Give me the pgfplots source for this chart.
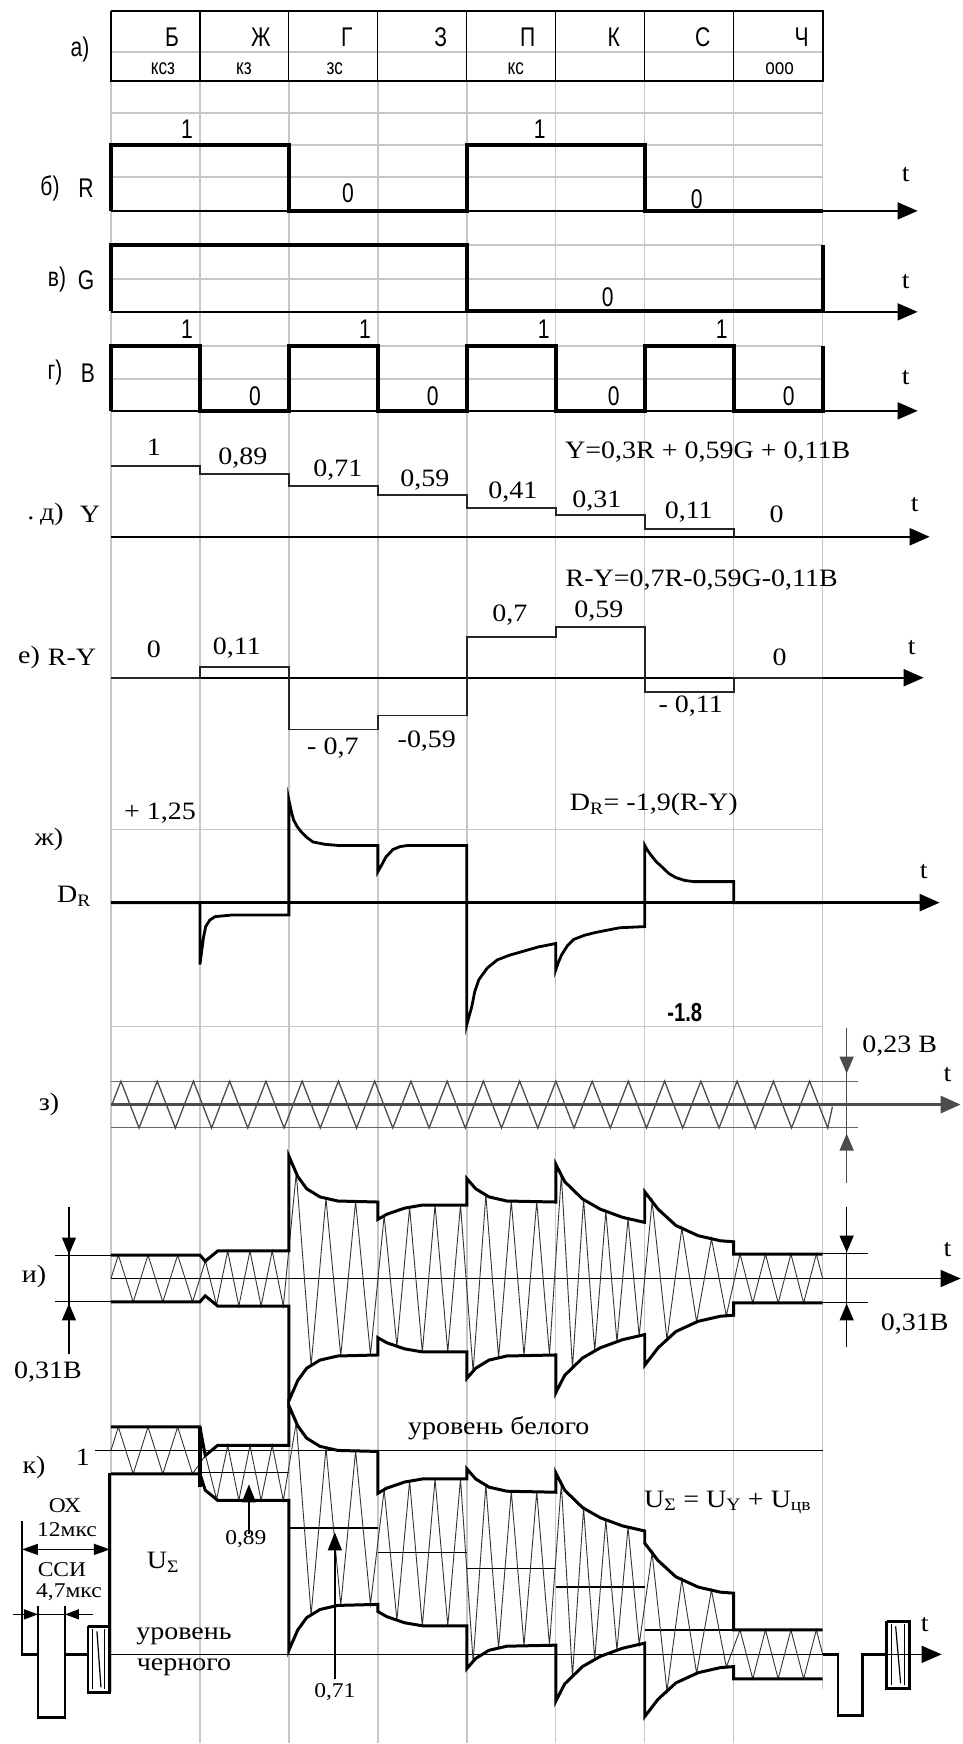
\documentclass[border=0pt]{standalone}
\usepackage{fontspec}
\setmainfont{Liberation Serif}[FakeStretch=1.12]
\newfontfamily\ar{Liberation Sans}[FakeStretch=0.78]
\usepackage{pgfplots}
\usepackage{pgfplotstable}
\pgfplotsset{compat=1.18}
\usetikzlibrary{arrows.meta}

\definecolor{gridc}{gray}{0.78}
\definecolor{zc}{gray}{0.30}

% R, G, B signals (t in colour-bar units, v = 0/1)
\pgfplotstableread{
t v
0 0
0 1
2 1
2 0
4 0
4 1
6 1
6 0
8 0
}\tabR
\pgfplotstableread{
t v
0 0
0 1
4 1
4 0
8 0
8 1
}\tabG
\pgfplotstableread{
t v
0 0
0 1
1 1
1 0
2 0
2 1
3 1
3 0
4 0
4 1
5 1
5 0
6 0
6 1
7 1
7 0
8 0
8 1
}\tabB
% luminance Y
\pgfplotstableread{
t v
0 1
1 1
1 0.89
2 0.89
2 0.71
3 0.71
3 0.59
4 0.59
4 0.41
5 0.41
5 0.31
6 0.31
6 0.11
7 0.11
7 0
}\tabY
% R-Y as drawn
\pgfplotstableread{
t v
0 0
1 0
1 0.15
2 0.15
2 -0.70
3 -0.70
3 -0.51
4 -0.51
4 0.55
5 0.55
5 0.69
6 0.69
6 -0.19
7 -0.19
7 0
8 0
}\tabRY
% D_R with pre-emphasis spikes
\pgfplotstableread{
t v
0 0
1 0
1 -1.06
1.017 -0.86
1.04 -0.60
1.065 -0.41
1.11 -0.30
1.17 -0.24
1.37 -0.21
2 -0.21
2 1.76
2.025 1.58
2.052 1.42
2.09 1.31
2.135 1.22
2.2 1.12
2.27 1.04
2.4 1.00
2.55 0.98
3 0.98
3 0.53
3.034 0.62
3.09 0.78
3.169 0.91
3.25 0.96
3.337 0.98
4 0.98
4 -2.09
4.025 -1.95
4.056 -1.78
4.09 -1.52
4.135 -1.32
4.23 -1.12
4.343 -0.98
4.48 -0.90
4.618 -0.84
4.8 -0.76
5 -0.70
5 -1.15
5.03 -1.02
5.067 -0.89
5.13 -0.74
5.202 -0.63
5.32 -0.56
5.449 -0.51
5.719 -0.43
6 -0.41
6 0.98
6.03 0.90
6.067 0.82
6.13 0.70
6.202 0.60
6.27 0.50
6.348 0.43
6.45 0.38
6.551 0.36
7 0.36
7 0
8 0
}\tabDR
% subcarrier z) (volts)
\pgfplotstableread{
t v
0.011 0
0.112 0.115
0.316 -0.115
0.520 0.115
0.724 -0.115
0.927 0.115
1.131 -0.115
1.334 0.115
1.538 -0.115
1.742 0.115
1.946 -0.115
2.149 0.115
2.353 -0.115
2.557 0.115
2.761 -0.115
2.964 0.115
3.168 -0.115
3.372 0.115
3.576 -0.115
3.779 0.115
3.983 -0.115
4.186 0.115
4.390 -0.115
4.594 0.115
4.798 -0.115
5.001 0.115
5.205 -0.115
5.409 0.115
5.613 -0.115
5.816 0.115
6.020 -0.115
6.223 0.115
6.427 -0.115
6.631 0.115
6.835 -0.115
7.038 0.115
7.242 -0.115
7.446 0.115
7.650 -0.115
7.853 0.115
8.057 -0.115
8.11 -0.01
}\tabZ
% chroma envelope a and luminance Y
\pgfplotstableread{
t a Y
0 0.115 1.0
1 0.115 1.0
1.06 0.085 0.89
1.2 0.135 0.89
2 0.135 0.89
2 0.600 0.62
2.05 0.550 0.62
2.1 0.500 0.62
2.2 0.440 0.62
2.35 0.400 0.62
2.55 0.380 0.62
3 0.375 0.62
3 0.290 0.50
3.1 0.315 0.50
3.3 0.345 0.50
3.5 0.360 0.50
4 0.360 0.50
4 0.490 0.42
4.1 0.440 0.42
4.25 0.400 0.42
4.45 0.380 0.42
5 0.375 0.42
5 0.560 0.33
5.1 0.475 0.33
5.3 0.390 0.33
5.5 0.340 0.33
5.75 0.300 0.33
6 0.275 0.33
6 0.425 0.12
6.15 0.340 0.12
6.35 0.260 0.12
6.6 0.210 0.12
6.85 0.185 0.12
7 0.180 0.12
7 0.120 0
8 0.120 0
}\tabEnv
% chroma carrier zigzag vertices
\pgfplotstableread{
t s a Y
0 0 0.115 1.0
0.083 1 0.115 1.0
0.25 -1 0.115 1.0
0.417 1 0.115 1.0
0.583 -1 0.115 1.0
0.75 1 0.115 1.0
0.917 -1 0.115 1.0
1.0625 1 0.086 0.89
1.1875 -1 0.130 0.89
1.3125 1 0.135 0.89
1.4375 -1 0.135 0.89
1.5625 1 0.135 0.89
1.6875 -1 0.135 0.89
1.8125 1 0.135 0.89
1.9375 -1 0.135 0.89
2.083 1 0.517 0.62
2.25 -1 0.427 0.62
2.417 1 0.393 0.62
2.583 -1 0.380 0.62
2.75 1 0.378 0.62
2.917 -1 0.375 0.62
3.071 1 0.308 0.50
3.214 -1 0.332 0.50
3.357 1 0.349 0.50
3.5 -1 0.360 0.50
3.643 1 0.360 0.50
3.786 -1 0.360 0.50
3.929 1 0.360 0.50
4.071 -1 0.455 0.42
4.214 1 0.410 0.42
4.357 -1 0.389 0.42
4.5 1 0.380 0.42
4.643 -1 0.378 0.42
4.786 1 0.377 0.42
4.929 -1 0.375 0.42
5.0625 1 0.507 0.33
5.1875 -1 0.438 0.33
5.3125 1 0.387 0.33
5.4375 -1 0.356 0.33
5.5625 1 0.330 0.33
5.6875 -1 0.310 0.33
5.8125 1 0.294 0.33
5.9375 -1 0.281 0.33
6.083 1 0.378 0.12
6.25 -1 0.300 0.12
6.417 1 0.247 0.12
6.583 -1 0.213 0.12
6.75 1 0.195 0.12
6.917 -1 0.183 0.12
7.071 1 0.12 0
7.214 -1 0.12 0
7.357 1 0.12 0
7.5 -1 0.12 0
7.643 1 0.12 0
7.786 -1 0.12 0
7.929 1 0.12 0
8 0 0.12 0
}\tabZig
% blanking and sync of the composite signal (luminance units)
\pgfplotstableread{
t v
-1.0 0
-0.82 0
-0.82 -0.31
-0.517 -0.31
-0.517 0
-0.258 0
}\tabSyncL
\pgfplotstableread{
t v
8 0
8.17 0
8.17 -0.30
8.45 -0.30
8.45 0
8.72 0
}\tabSyncR

\newcommand{\TX}{111+89*\thisrow{t}}

\tikzset{
  axarr/.style={-{Triangle[length=20pt,width=17pt]}},
  dimarr/.style={-{Triangle[length=17pt,width=14pt]}},
  lab/.style={font=\fontsize{25}{28}\selectfont},
  labm/.style={font=\fontsize{21}{23}\selectfont},
  labs/.style={font=\ar\fontsize{27}{29}\selectfont},
  labt/.style={font=\ar\fontsize{22}{24}\selectfont},
}

\begin{document}
\begin{tikzpicture}[every node/.append style={inner sep=0pt, outer sep=0pt}]
\begin{axis}[
  width=963pt, height=1744pt, scale only axis,
  xmin=0, xmax=963, ymin=0, ymax=1744, y dir=reverse,
  hide axis, clip=false, no markers,
]
\draw[draw=none] (axis cs:0,0) rectangle (axis cs:963,1744);
% ---------- grid ----------
\pgfplotsinvokeforeach{200,289,378,467,556,645,734}{
  \addplot[gridc, line width=1.4pt] coordinates {(#1,81) (#1,1744)};
}
\addplot[gridc, line width=1.4pt] coordinates {(111,81) (111,1693)};
\addplot[gridc, line width=1.4pt] coordinates {(823,81) (823,1690)};
\pgfplotsinvokeforeach{52,113,145,177,245,279,346,379,830,1027}{
  \addplot[gridc, line width=1.4pt] coordinates {(111,#1) (823,#1)};
}
% ---------- a) table ----------
\addplot[black, line width=1.8pt] coordinates {(111,11) (823,11) (823,81) (111,81) (111,11)};
\pgfplotsinvokeforeach{200,289,378,467,556,645,734}{
  \addplot[black, line width=1.2pt] coordinates {(#1,11) (#1,81)};
}
\node[labs] at (axis cs:80,50) {а)};
\node[labs] at (axis cs:172,37) {Б};
\node[labs] at (axis cs:261,37) {Ж};
\node[labs] at (axis cs:347,37) {Г};
\node[labs] at (axis cs:441,37) {З};
\node[labs] at (axis cs:528,37) {П};
\node[labs] at (axis cs:614,37) {К};
\node[labs] at (axis cs:703,37) {С};
\node[labs] at (axis cs:802,37) {Ч};
\node[labt] at (axis cs:163,69) {ксз};
\node[labt] at (axis cs:244,69) {кз};
\node[labt] at (axis cs:335,69) {зс};
\node[labt] at (axis cs:516,69) {кс};
\node[labt] at (axis cs:780,69) {ооо};
% ---------- b) R ----------
\addplot[black, line width=1.5pt, axarr] coordinates {(111,211) (918,211)};
\addplot[black, line width=4pt] table[x expr=\TX, y expr=211-66*\thisrow{v}] {\tabR};
\node[labs] at (axis cs:50,188) {б)};
\node[labs] at (axis cs:86,188) {R};
\node[labs] at (axis cs:187,129) {1};
\node[labs] at (axis cs:540,129) {1};
\node[labs] at (axis cs:348,193) {0};
\node[labs] at (axis cs:697,199) {0};
\node[lab] at (axis cs:906,175) {t};
% ---------- v) G ----------
\addplot[black, line width=1.5pt, axarr] coordinates {(111,312) (918,312)};
\addplot[black, line width=4pt] table[x expr=\TX, y expr=311-66*\thisrow{v}] {\tabG};
\node[labs] at (axis cs:57,280) {в)};
\node[labs] at (axis cs:86,280) {G};
\node[labs] at (axis cs:608,297) {0};
\node[lab] at (axis cs:906,282) {t};
% ---------- g) B ----------
\addplot[black, line width=1.5pt, axarr] coordinates {(111,411) (918,411)};
\addplot[black, line width=4pt] table[x expr=\TX, y expr=411-65*\thisrow{v}] {\tabB};
\node[labs] at (axis cs:55,373) {г)};
\node[labs] at (axis cs:88,373) {B};
\node[labs] at (axis cs:187,329) {1};
\node[labs] at (axis cs:365,329) {1};
\node[labs] at (axis cs:544,329) {1};
\node[labs] at (axis cs:722,329) {1};
\node[labs] at (axis cs:255,396) {0};
\node[labs] at (axis cs:433,396) {0};
\node[labs] at (axis cs:614,396) {0};
\node[labs] at (axis cs:789,396) {0};
\node[lab] at (axis cs:906,378) {t};
% ---------- d) Y ----------
\addplot[black, line width=2.2pt, axarr] coordinates {(111,537) (930,537)};
\addplot[black!85, line width=2pt] table[x expr=\TX, y expr=537-71*\thisrow{v}] {\tabY};
\node[lab] at (axis cs:31,519) {.};
\node[lab] at (axis cs:52,515) {д)};
\node[lab] at (axis cs:90,515) {Y};
\node[lab] at (axis cs:154,447) {1};
\node[lab] at (axis cs:243,458) {0,89};
\node[lab] at (axis cs:338,470) {0,71};
\node[lab] at (axis cs:425,480) {0,59};
\node[lab] at (axis cs:513,492) {0,41};
\node[lab] at (axis cs:597,501) {0,31};
\node[lab] at (axis cs:689,512) {0,11};
\node[lab] at (axis cs:777,515) {0};
\node[lab] at (axis cs:708,452) {Y=0,3R + 0,59G + 0,11B};
\node[lab] at (axis cs:915,505) {t};
% ---------- e) R-Y ----------
\addplot[black, line width=2pt, axarr] coordinates {(111,678) (924,678)};
\addplot[black!85, line width=1.8pt] table[x expr=\TX, y expr=678-74*\thisrow{v}] {\tabRY};
\node[lab] at (axis cs:29,658) {е)};
\node[lab] at (axis cs:72,658) {R-Y};
\node[lab] at (axis cs:154,650) {0};
\node[lab] at (axis cs:237,648) {0,11};
\node[lab] at (axis cs:510,615) {0,7};
\node[lab] at (axis cs:599,611) {0,59};
\node[lab] at (axis cs:691,706) {- 0,11};
\node[lab] at (axis cs:780,658) {0};
\node[lab] at (axis cs:333,748) {- 0,7};
\node[lab] at (axis cs:427,741) {-0,59};
\node[lab] at (axis cs:702,580) {R-Y=0,7R-0,59G-0,11B};
\node[lab] at (axis cs:912,648) {t};
% ---------- zh) D_R ----------
\addplot[black, line width=2.5pt, axarr] coordinates {(111,903) (940,903)};
\addplot[black, line width=2.8pt] table[x expr=\TX, y expr=903-58.4*\thisrow{v}] {\tabDR};
\node[lab] at (axis cs:160,813) {+ 1,25};
\node[lab] at (axis cs:49,840) {ж)};
\node[lab] at (axis cs:74,897) {D\textsubscript{R}};
\node[lab] at (axis cs:654,805) {D\textsubscript{R}= -1,9(R-Y)};
\node[font=\ar\bfseries\fontsize{26}{28}\selectfont] at (axis cs:685,1013) {-1.8};
\node[lab] at (axis cs:924,872) {t};
% ---------- z) subcarrier ----------
\addplot[gray!80!black, line width=1.6pt] coordinates {(111,1082) (858,1082)};
\addplot[gray!80!black, line width=1.6pt] coordinates {(111,1128) (858,1128)};
\addplot[zc, line width=3pt, axarr] coordinates {(111,1105) (961,1105)};
\addplot[zc, line width=1.3pt] table[x expr=\TX, y expr=1105-204*\thisrow{v}] {\tabZ};
\addplot[zc, line width=1.6pt] coordinates {(847,1028) (847,1183)};
\addplot[zc, line width=1.6pt, dimarr] coordinates {(847,1028) (847,1074)};
\addplot[zc, line width=1.6pt, dimarr] coordinates {(847,1183) (847,1134)};
\node[lab] at (axis cs:49,1105) {з)};
\node[lab] at (axis cs:900,1047) {0,23 B};
\node[lab] at (axis cs:948,1075) {t};
% ---------- i) chroma signal ----------
\addplot[black, line width=1.4pt] coordinates {(55,1256) (111,1256)};
\addplot[black, line width=1.4pt] coordinates {(55,1302) (111,1302)};
\addplot[black, line width=1.4pt] coordinates {(823,1254) (868,1254)};
\addplot[black, line width=1.4pt] coordinates {(823,1303) (868,1303)};
\addplot[black, line width=1.4pt] coordinates {(69,1207) (69,1355)};
\addplot[black, line width=1.4pt, dimarr] coordinates {(69,1207) (69,1255)};
\addplot[black, line width=1.4pt, dimarr] coordinates {(69,1355) (69,1304)};
\addplot[black, line width=1.4pt] coordinates {(847,1207) (847,1348)};
\addplot[black, line width=1.4pt, dimarr] coordinates {(847,1207) (847,1253)};
\addplot[black, line width=1.4pt, dimarr] coordinates {(847,1348) (847,1304)};
\addplot[black, line width=1.5pt, axarr] coordinates {(111,1279) (961,1279)};
\addplot[black!80, line width=0.9pt] table[x expr=\TX, y expr=1279-204*\thisrow{s}*\thisrow{a}] {\tabZig};
\addplot[black, line width=3pt] table[x expr=\TX, y expr=1279-204*\thisrow{a}] {\tabEnv};
\addplot[black, line width=3pt] table[x expr=\TX, y expr=1279+204*\thisrow{a}] {\tabEnv};
\node[lab] at (axis cs:34,1277) {и)};
\node[lab] at (axis cs:48,1373) {0,31B};
\node[lab] at (axis cs:915,1325) {0,31B};
\node[lab] at (axis cs:948,1250) {t};
% ---------- k) composite signal ----------
\addplot[black, line width=1.3pt] coordinates {(95,1451) (823,1451)};
\addplot[black, line width=1.3pt] coordinates {(111,1655) (823,1655)};
\addplot[black, line width=1.3pt] coordinates {(200,1473.4) (289,1473.4)};
\addplot[black, line width=1.3pt] coordinates {(289,1528.5) (378,1528.5)};
\addplot[black, line width=1.3pt] coordinates {(378,1553) (467,1553)};
\addplot[black, line width=1.3pt] coordinates {(467,1569.3) (556,1569.3)};
\addplot[black, line width=1.3pt] coordinates {(556,1587.7) (645,1587.7)};
\addplot[black, line width=1.3pt] coordinates {(645,1630.5) (734,1630.5)};
\addplot[black!80, line width=0.9pt] table[x expr=\TX, y expr=1655-204*(\thisrow{Y}+\thisrow{s}*\thisrow{a})] {\tabZig};
\addplot[black, line width=3pt] table[x expr=\TX, y expr=1655-204*(\thisrow{Y}+\thisrow{a})] {\tabEnv};
\addplot[black, line width=3pt] table[x expr=\TX, y expr=1655-204*(\thisrow{Y}-\thisrow{a})] {\tabEnv};
\addplot[black, line width=3.5pt] coordinates {(200,1428) (200,1488)};
% rising edge at the start of the line, blanking, sync
\addplot[black, line width=3pt] coordinates {(110,1693) (110,1474)};
\addplot[black, line width=2.6pt] table[x expr=\TX, y expr=1655-204*\thisrow{v}] {\tabSyncL};
\addplot[black, line width=2.6pt] table[x expr=\TX, y expr=1655-204*\thisrow{v}] {\tabSyncR};
\addplot[black, line width=1.5pt, axarr] coordinates {(887,1655) (942,1655)};
% colour bursts
\addplot[black, line width=2.6pt] coordinates {(88,1627) (110,1627) (110,1693) (88,1693) (88,1627)};
\addplot[black, line width=1pt] coordinates {(93,1630) (93,1690)};
\addplot[black, line width=1pt] coordinates {(105,1630) (105,1690)};
\addplot[black, line width=1.2pt] coordinates {(97,1632) (101,1688)};
\addplot[black, line width=2.6pt] coordinates {(887,1622) (910,1622) (910,1689) (887,1689) (887,1622)};
\addplot[black, line width=1pt] coordinates {(892,1625) (892,1686)};
\addplot[black, line width=1pt] coordinates {(905,1625) (905,1686)};
\addplot[black, line width=1.2pt] coordinates {(896,1627) (901,1684)};
% dimension marks OX and SSI
\addplot[black, line width=1.4pt] coordinates {(22,1522) (22,1657)};
\addplot[black, line width=1.4pt, {Triangle[length=16pt,width=11pt]}-{Triangle[length=16pt,width=11pt]}] coordinates {(22,1550) (110,1550)};
\addplot[black, line width=1.4pt] coordinates {(38,1607) (38,1657)};
\addplot[black, line width=1.4pt] coordinates {(65,1607) (65,1660)};
\addplot[black, line width=1.4pt] coordinates {(38,1615) (65,1615)};
\addplot[black, line width=1.4pt, -{Triangle[length=14pt,width=10pt]}] coordinates {(13,1615) (38,1615)};
\addplot[black, line width=1.4pt, -{Triangle[length=14pt,width=10pt]}] coordinates {(93,1615) (65,1615)};
% arrows to the luminance levels
\addplot[black, line width=1.4pt, -{Triangle[length=18pt,width=14pt]}] coordinates {(249,1535) (249,1485)};
\addplot[black, line width=1.4pt, -{Triangle[length=18pt,width=14pt]}] coordinates {(335,1680) (335,1533)};
\node[lab] at (axis cs:499,1429) {уровень белого};
\node[lab] at (axis cs:83,1458) {1};
\node[lab] at (axis cs:34,1468) {к)};
\node[labm] at (axis cs:65,1506) {ОХ};
\node[labm] at (axis cs:67,1530) {12мкс};
\node[labm] at (axis cs:62,1570) {ССИ};
\node[labm] at (axis cs:69,1593) {4,7мкс};
\node[lab] at (axis cs:163,1563) {U\textsubscript{Σ}};
\node[lab] at (axis cs:184,1637) {уровень};
\node[lab] at (axis cs:184,1668) {черного};
\node[labm] at (axis cs:246,1540) {0,89};
\node[labm] at (axis cs:335,1693) {0,71};
\node[lab] at (axis cs:728,1503) {U\textsubscript{Σ} = U\textsubscript{Y} + U\textsubscript{цв}};
\node[lab] at (axis cs:925,1625) {t};
\end{axis}
\end{tikzpicture}
\end{document}
